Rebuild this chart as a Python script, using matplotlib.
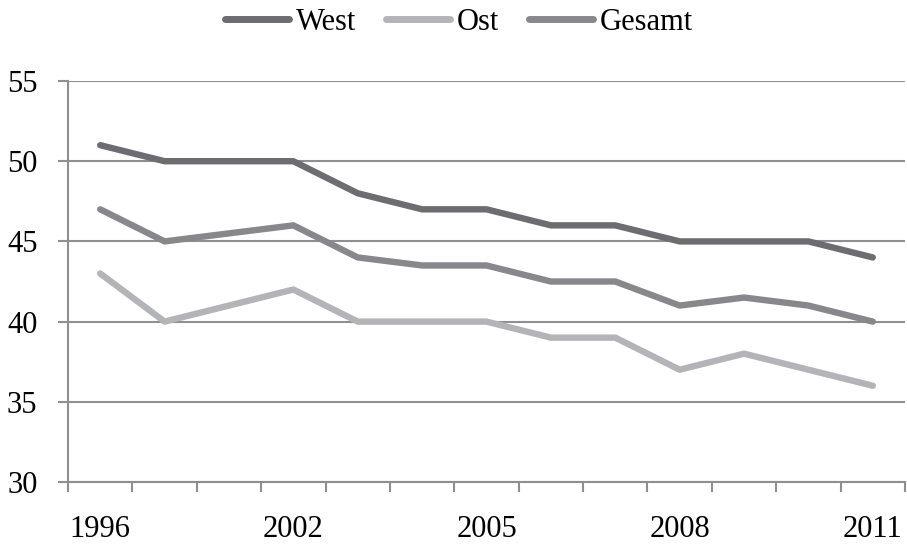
import matplotlib

matplotlib.use("Agg")
import matplotlib.pyplot as plt
import numpy as np
from matplotlib.ticker import FixedLocator

years = ["1996", "1998", "2000", "2002", "2003", "2004", "2005",
         "2006", "2007", "2008", "2009", "2010", "2011"]
shown_years = ["1996", "2002", "2005", "2008", "2011"]
west = [51, 50, 50, 50, 48, 47, 47, 46, 46, 45, 45, 45, 44]
ost = [43, 40, 41, 42, 40, 40, 40, 39, 39, 37, 38, 37, 36]
gesamt = [47, 45, 45.5, 46, 44, 43.5, 43.5, 42.5, 42.5, 41, 41.5, 41, 40]

plt.rcParams["font.family"] = ["Liberation Serif", "DejaVu Serif"]

grid_col = "#8f8f92"
fig = plt.figure(figsize=(9.07, 5.45), dpi=100)
ax = fig.add_axes([68 / 907, 1 - 482 / 545, (905 - 68) / 907, (482 - 81) / 545])

x = np.arange(len(years))
series = [("West", west, "#6c6d71"), ("Ost", ost, "#b3b4b7"), ("Gesamt", gesamt, "#87888c")]
for name, vals, col in series:
    ax.plot(x, vals, color=col, lw=4.6, label=name,
            solid_capstyle="round", solid_joinstyle="round")

ax.set_xlim(-0.5, len(years) - 0.5)
ax.set_ylim(30, 55)
ax.set_yticks(range(30, 56, 5))
ax.yaxis.grid(True, color=grid_col, lw=1.5)
ax.set_axisbelow(True)

# category boundaries get tick marks, labels only for some years
ax.xaxis.set_minor_locator(FixedLocator(np.arange(-0.5, len(years), 1.0)))
label_pos = [years.index(y) for y in shown_years]
ax.set_xticks(label_pos)
ax.set_xticklabels(shown_years)
ax.tick_params(axis="x", which="major", length=0, pad=24, labelsize=22)
ax.tick_params(axis="x", which="minor", length=7, width=1.5, color=grid_col, direction="out")
ax.tick_params(axis="y", length=7, width=1.5, color=grid_col, pad=15, labelsize=22)

for side in ["top", "right"]:
    ax.spines[side].set_visible(False)
for side in ["left", "bottom"]:
    ax.spines[side].set_color(grid_col)
    ax.spines[side].set_linewidth(1.5)

leg = fig.legend(loc="center", bbox_to_anchor=(0.506, 1 - 22 / 545), ncol=3,
                 frameon=False, fontsize=22, handlelength=2.1, handletextpad=0.2,
                 columnspacing=1.0)
for line in leg.get_lines():
    line.set_linewidth(5)

fig.savefig("out.png", dpi=100)
